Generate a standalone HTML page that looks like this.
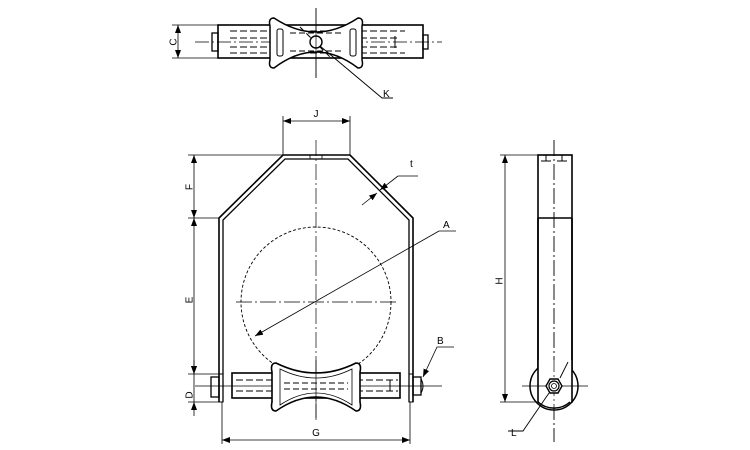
<!DOCTYPE html>
<html><head><meta charset="utf-8"><style>
html,body{margin:0;padding:0;background:#fff;}
svg{display:block;}
text{font-family:"Liberation Sans",sans-serif;font-size:10px;fill:#000;}
</style></head><body>
<svg width="750" height="450" viewBox="0 0 750 450" xmlns="http://www.w3.org/2000/svg">
<defs>
<marker id="ar" markerWidth="8" markerHeight="6" refX="8" refY="3" orient="auto-start-reverse" markerUnits="userSpaceOnUse"><path d="M0,0 L8,3 L0,6 z" fill="#000"/></marker>
</defs>
<g fill="none" stroke="#000" stroke-width="1">
<!-- ===== TOP VIEW ===== -->
<line x1="195" y1="42" x2="442" y2="42" stroke-dasharray="14,3,2,3" stroke-width="0.7"/>
<line x1="316" y1="8" x2="316" y2="78" stroke-width="0.7"/>
<rect x="218" y="25" width="205" height="33" stroke-width="1.6"/>
<rect x="212" y="33" width="6" height="18" stroke-width="1.3"/>
<rect x="423" y="35" width="5" height="14" stroke-width="1.3"/>
<line x1="230" y1="31" x2="405" y2="31" stroke-dasharray="7,3"/>
<line x1="230" y1="53" x2="405" y2="53" stroke-dasharray="7,3"/>
<line x1="230" y1="38" x2="400" y2="38" stroke-dasharray="7,3"/>
<line x1="230" y1="47" x2="400" y2="47" stroke-dasharray="7,3"/>
<line x1="395" y1="36" x2="395" y2="48"/>
<path d="M274,18 Q295,32 316,32 Q337,32 358,18 Q364,18 362,26 L362,60 Q364,68 358,68 Q337,52 316,52 Q295,52 274,68 Q268,68 270,60 L270,26 Q268,18 274,18 Z" fill="#fff" stroke-width="1.5"/>
<rect x="277" y="29" width="6" height="27" rx="2"/>
<rect x="350" y="29" width="6" height="27" rx="2"/>
<line x1="290" y1="33" x2="343" y2="33" stroke-dasharray="6,3"/>
<line x1="290" y1="51" x2="343" y2="51" stroke-dasharray="6,3"/>
<line x1="300" y1="27" x2="330" y2="57" stroke-dasharray="6,3"/>
<circle cx="316" cy="42" r="6" fill="#fff" stroke-width="1.4"/>
<line x1="316" y1="8" x2="316" y2="78" stroke-width="0.7"/>
<!-- C dim -->
<line x1="172" y1="25" x2="218" y2="25" stroke-width="0.8"/>
<line x1="172" y1="58" x2="218" y2="58" stroke-width="0.8"/>
<line x1="178" y1="25" x2="178" y2="58" marker-start="url(#ar)" marker-end="url(#ar)" stroke-width="0.8"/>
<!-- K leader -->
<polyline points="320,46 382,98 393,98" stroke-width="0.9"/>

<!-- ===== MAIN VIEW ===== -->
<!-- strap -->
<path d="M219,402 L219,218 L283,155 L350,155 L413,218 L413,402" stroke-width="1.6"/>
<path d="M223,402 L223,220 L285,159 L348,159 L409,220 L409,402" stroke-width="1.3"/>
<rect x="310" y="155" width="12" height="4" stroke-width="0.8"/>
<!-- pipe -->
<circle cx="316" cy="302" r="75" stroke-dasharray="3,2" stroke-width="0.9"/>
<line x1="316" y1="140" x2="316" y2="420" stroke-dasharray="16,3,2,3" stroke-width="0.7"/>
<line x1="236" y1="302" x2="396" y2="302" stroke-dasharray="16,3,2,3" stroke-width="0.7"/>
<!-- bottom roller -->
<line x1="195" y1="386" x2="442" y2="386" stroke-width="0.7"/>
<rect x="211" y="377" width="8" height="20" stroke-width="1.3"/>
<rect x="219" y="374" width="4" height="28" stroke-width="1"/>
<rect x="409" y="374" width="4" height="28" stroke-width="1"/>
<rect x="413" y="377" width="8" height="18" stroke-width="1.3"/>
<path d="M421,379 q4,7 0,14"/>
<rect x="232" y="373" width="168" height="25" stroke-width="1.6"/>
<line x1="236" y1="380" x2="398" y2="380" stroke-dasharray="7,3"/>
<line x1="236" y1="391" x2="398" y2="391" stroke-dasharray="7,3"/>
<line x1="390" y1="380" x2="390" y2="391"/>
<path d="M276,363 Q296,373 316,373 Q336,373 356,363 Q362,363 360,372 L360,402 Q362,411 356,411 Q336,397 316,397 Q296,397 276,411 Q270,411 272,402 L272,372 Q270,363 276,363 Z" fill="#fff" stroke-width="1.6"/>
<path d="M280,369 Q298,378 316,378 Q334,378 352,369 L352,405 Q334,393 316,393 Q298,393 280,405 Z" stroke-width="0.8"/>
<line x1="284" y1="383" x2="348" y2="383" stroke-dasharray="6,3"/>
<line x1="284" y1="389" x2="348" y2="389" stroke-dasharray="6,3"/>
<line x1="316" y1="360" x2="316" y2="418" stroke-width="0.7"/>
<!-- J dim -->
<line x1="283" y1="116" x2="283" y2="155" stroke-width="0.8"/>
<line x1="350" y1="116" x2="350" y2="155" stroke-width="0.8"/>
<line x1="283" y1="121" x2="350" y2="121" marker-start="url(#ar)" marker-end="url(#ar)" stroke-width="0.8"/>
<!-- left dims -->
<line x1="188" y1="155" x2="283" y2="155" stroke-width="0.8"/>
<line x1="188" y1="218" x2="219" y2="218" stroke-width="0.8"/>
<line x1="188" y1="374" x2="219" y2="374" stroke-width="0.8"/>
<line x1="188" y1="402" x2="219" y2="402" stroke-width="0.8"/>
<line x1="194" y1="155" x2="194" y2="218" marker-start="url(#ar)" marker-end="url(#ar)" stroke-width="0.8"/>
<line x1="194" y1="218" x2="194" y2="374" marker-start="url(#ar)" marker-end="url(#ar)" stroke-width="0.8"/>
<line x1="194" y1="360" x2="194" y2="374" marker-end="url(#ar)" stroke-width="0.8"/>
<line x1="194" y1="416" x2="194" y2="402" marker-end="url(#ar)" stroke-width="0.8"/>
<line x1="194" y1="374" x2="194" y2="402" stroke-width="0.8"/>
<!-- G dim -->
<line x1="222" y1="402" x2="222" y2="444" stroke-width="0.8"/>
<line x1="410" y1="402" x2="410" y2="444" stroke-width="0.8"/>
<line x1="222" y1="440" x2="410" y2="440" marker-start="url(#ar)" marker-end="url(#ar)" stroke-width="0.8"/>
<!-- t leader -->
<line x1="362" y1="205" x2="377" y2="193" marker-end="url(#ar)" stroke-width="0.8"/>
<polyline points="398,176 380,190" marker-end="url(#ar)" stroke-width="0.8"/>
<line x1="398" y1="176" x2="418" y2="176" stroke-width="0.8"/>
<!-- A leader -->
<line x1="439" y1="231" x2="255" y2="336" marker-end="url(#ar)" stroke-width="0.8"/>
<line x1="439" y1="231" x2="456" y2="231" stroke-width="0.8"/>
<!-- B leader -->
<polyline points="454,347 437,347 423,377" marker-end="url(#ar)" stroke-width="0.8"/>

<!-- ===== SIDE VIEW ===== -->
<line x1="554" y1="140" x2="554" y2="442" stroke-dasharray="16,3,2,3" stroke-width="0.7"/>
<rect x="538" y="155" width="34" height="247" stroke-width="1.6"/>
<line x1="538" y1="218" x2="572" y2="218" stroke-width="1.6"/>
<line x1="546" y1="155" x2="546" y2="161"/><line x1="562" y1="155" x2="562" y2="161"/>
<line x1="541" y1="161" x2="551" y2="161"/><line x1="557" y1="161" x2="567" y2="161"/>
<circle cx="554" cy="386" r="24" fill="#fff" stroke-width="1.5"/>
<rect x="538" y="360" width="34" height="26" fill="#fff" stroke="none"/>
<line x1="538" y1="218" x2="538" y2="402" stroke-width="1.6"/>
<line x1="572" y1="218" x2="572" y2="402" stroke-width="1.6"/>
<path d="M538,402 A24,24 0 0 0 570,402" stroke-width="1.5"/>
<line x1="522" y1="386" x2="588" y2="386" stroke-width="0.7"/>
<line x1="554" y1="140" x2="554" y2="442" stroke-dasharray="16,3,2,3" stroke-width="0.7"/>
<polygon points="546,386 550,379 558,379 562,386 558,393 550,393" fill="#fff" stroke-width="1.4"/>
<circle cx="554" cy="386" r="5" stroke-width="1.2"/>
<circle cx="554" cy="386" r="2.5" stroke-width="0.8"/>
<line x1="560" y1="378" x2="568" y2="362" stroke-width="0.9"/>
<!-- H dim -->
<line x1="500" y1="155" x2="538" y2="155" stroke-width="0.8"/>
<line x1="500" y1="402" x2="538" y2="402" stroke-width="0.8"/>
<line x1="505" y1="155" x2="505" y2="402" marker-start="url(#ar)" marker-end="url(#ar)" stroke-width="0.8"/>
<!-- L leader -->
<polyline points="549,393 523,431 508,431" stroke-width="0.9"/>
</g>
<g>
<text x="173" y="42" text-anchor="middle" transform="rotate(-90 173 42)" dy="3.5">C</text>
<text x="383" y="97">K</text>
<text x="316" y="117" text-anchor="middle">J</text>
<text x="189" y="187" text-anchor="middle" transform="rotate(-90 189 187)" dy="3.5">F</text>
<text x="189" y="300" text-anchor="middle" transform="rotate(-90 189 300)" dy="3.5">E</text>
<text x="189" y="395" text-anchor="middle" transform="rotate(-90 189 395)" dy="3.5">D</text>
<text x="316" y="436" text-anchor="middle">G</text>
<text x="410" y="167">t</text>
<text x="443" y="228">A</text>
<text x="437" y="344">B</text>
<text x="499" y="281" text-anchor="middle" transform="rotate(-90 499 281)" dy="3.5">H</text>
<text x="511" y="436">L</text>
</g>
</svg>
</body></html>
